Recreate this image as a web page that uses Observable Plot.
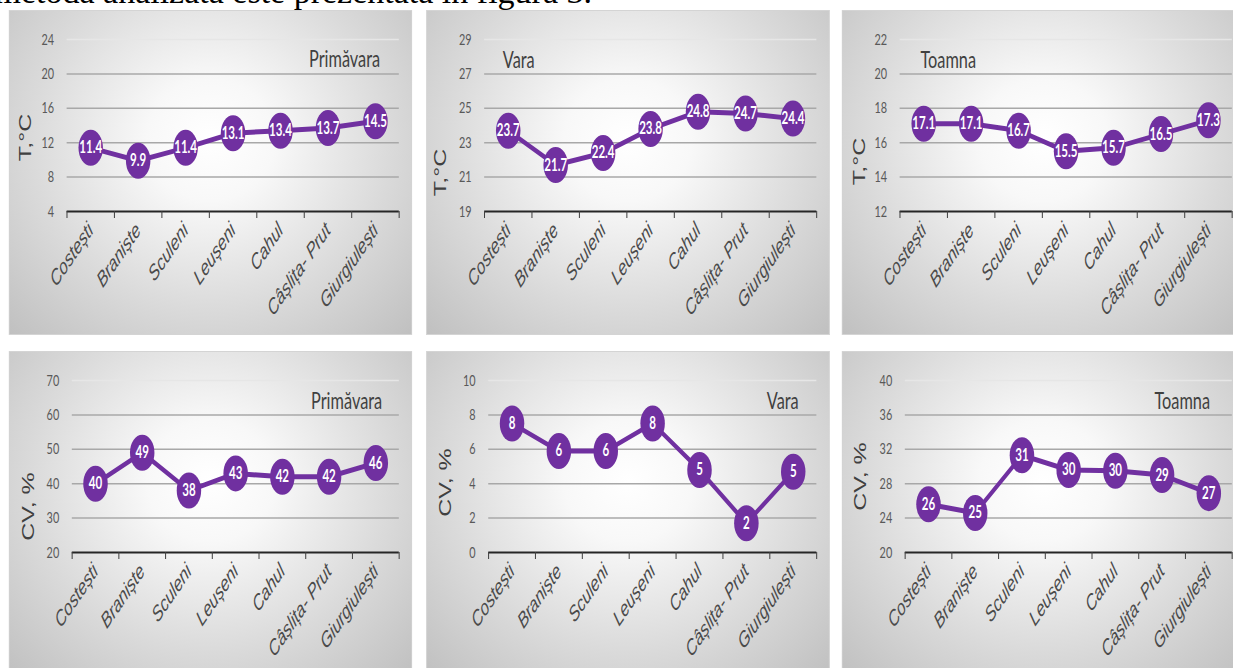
<!DOCTYPE html>
<html>
<head>
<meta charset="utf-8">
<script src="https://cdn.jsdelivr.net/npm/d3@7"></script>
<script src="https://cdn.jsdelivr.net/npm/@observablehq/plot@0.6"></script>
<style>
  html, body { margin: 0; padding: 0; background: #fff; }
  body { width: 1233px; height: 668px; overflow: hidden; position: relative; }
  #lead {
    position: absolute; top: -25px; right: 641px; white-space: nowrap;
    font: 34px/34px "Liberation Serif", "Times New Roman", serif; color: #000;
  }
  /* the chart sheet is laid out wide and condensed horizontally */
  #sheet { position: absolute; left: 0; top: 0; width: 1814px; height: 700px;
           transform: scaleX(0.68); transform-origin: 0 0; }
  .panel {
    position: absolute; width: 593px; height: 325px;
    background: radial-gradient(ellipse 72% 85% at 50% 40%, #ffffff 0%, #f8f8f8 22%, #dadada 62%, #bfbfbf 100%);
    box-shadow: inset 0 0 0 1px #d4d4d4;
  }
  .panel svg { display: block; }
</style>
</head>
<body>
<div id="lead">metoda analizată este prezentată în figura 3.</div>
<div id="sheet"></div>
<script>
// Stations along the Prut river
const stations = ["Costești", "Braniște", "Sculeni", "Leușeni", "Cahul", "Câșlița- Prut", "Giurgiulești"];

// Mean air temperature, °C
const tempSpring = [11.4, 9.9, 11.4, 13.1, 13.4, 13.7, 14.5];
const tempSummer = [23.7, 21.7, 22.4, 23.8, 24.8, 24.7, 24.4];
const tempAutumn = [17.1, 17.1, 16.7, 15.5, 15.7, 16.5, 17.3];

// Coefficient of variation, %
const cvSpring = [40, 49, 38, 43, 42, 42, 46];
const cvSummer = [7.5, 5.9, 5.9, 7.5, 4.8, 1.7, 4.7];
const cvAutumn = [25.6, 24.6, 31.3, 29.6, 29.5, 29.0, 26.9];

// Y-axis tick labels
const ticksTempSpring = [4, 8, 12, 16, 20, 24];
const ticksTempSummer = [19, 21, 23, 25, 27, 29];
const ticksTempAutumn = [12, 14, 16, 18, 20, 22];
const ticksCvSpring = [20, 30, 40, 50, 60, 70];
const ticksCvSummer = [0, 2, 4, 6, 8, 10];
const ticksCvAutumn = [20, 24, 28, 32, 36, 40];

const fmtTemp = d => d.toFixed(1);
const fmtCv = d => String(Math.round(d));

const panels = [
  {left: 13.2, top: 10, values: tempSpring, ticks: ticksTempSpring, yLabel: "T,°C", title: "Primăvara",
   titleAnchor: "top-right", titleDx: -28, titleDy: 27, labelDx: -61.5, labelDy: 12, marginLeft: 85, fmt: fmtTemp},
  {left: 626.5, top: 10, values: tempSummer, ticks: ticksTempSummer, yLabel: "T,°C", title: "Vara",
   titleAnchor: "top-left", titleDx: 27, titleDy: 28, labelDx: -64, labelDy: 47, marginLeft: 85, fmt: fmtTemp},
  {left: 1238.2, top: 10, values: tempAutumn, ticks: ticksTempAutumn, yLabel: "T,°C", title: "Toamna",
   titleAnchor: "top-left", titleDx: 30, titleDy: 28, labelDx: -59, labelDy: 36, marginLeft: 85, fmt: fmtTemp},
  {left: 13.2, top: 351, values: cvSpring, ticks: ticksCvSpring, yLabel: "CV, %", title: "Primăvara",
   titleAnchor: "top-right", titleDx: -25, titleDy: 28, labelDx: -64.6, labelDy: 40, marginLeft: 92.6, fmt: fmtCv},
  {left: 626.5, top: 351, values: cvSummer, ticks: ticksCvSummer, yLabel: "CV, %", title: "Vara",
   titleAnchor: "top-right", titleDx: -26.5, titleDy: 28, labelDx: -64, labelDy: 16, marginLeft: 91, fmt: fmtCv},
  {left: 1238.2, top: 351, values: cvAutumn, ticks: ticksCvAutumn, yLabel: "CV, %", title: "Toamna",
   titleAnchor: "top-right", titleDx: -32.5, titleDy: 28, labelDx: -65.6, labelDy: 10, marginLeft: 92.6, fmt: fmtCv}
];

const purple = "#7030a0";
const n = stations.length;
const sheet = document.getElementById("sheet");

for (const p of panels) {
  const box = document.createElement("div");
  box.className = "panel";
  box.style.left = p.left + "px";
  box.style.top = p.top + "px";
  sheet.appendChild(box);

  const t = p.ticks;
  const chart = Plot.plot({
    width: 593,
    height: 325,
    marginLeft: p.marginLeft,
    marginRight: 19.5,
    marginTop: 29,
    marginBottom: 124,
    style: {background: "transparent", overflow: "visible"},
    x: {domain: [-0.5, n - 0.5], axis: null},
    y: {domain: [t[0], t[t.length - 1]], axis: null},
    marks: [
      Plot.gridY(t.slice(1, -1), {stroke: "#a8a8a8", strokeOpacity: 1, strokeWidth: 1.5}),
      Plot.gridY(t.slice(-1), {stroke: "#e6e6e6", strokeOpacity: 1, strokeWidth: 1.5}),
      Plot.axisY(t, {tickSize: 0, tickPadding: 19, fontSize: 16, fontFamily: "Lato", color: "#595959", label: null}),
      Plot.ruleY([t[0]], {stroke: "#262626", strokeWidth: 2}),
      // category boundary ticks
      Plot.axisX(d3.range(-0.5, n), {tickSize: 7, tickFormat: () => "", color: "#404040", strokeWidth: 1.5, label: null}),
      // station names
      Plot.axisX(d3.range(n), {tickSize: 0, tickPadding: 15, tickRotate: -45, tickFormat: i => stations[i],
        fontSize: 22, fontStyle: "italic", fontFamily: "Liberation Sans", color: "#4a4a4a", label: null}),
      Plot.line(p.values, {x: (d, i) => i, y: d => d, stroke: purple, strokeWidth: 5}),
      Plot.dot(p.values, {x: (d, i) => i, y: d => d, r: 18, fill: purple, stroke: null}),
      Plot.text(p.values, {x: (d, i) => i, y: d => d, text: p.fmt, fill: "white", fontWeight: "bold",
        fontSize: 17, fontFamily: "Lato"}),
      Plot.text([p.title], {frameAnchor: p.titleAnchor, lineAnchor: "bottom", dx: p.titleDx, dy: p.titleDy,
        fontSize: 24, fontFamily: "Lato", fill: "#404040"}),
      Plot.text([p.yLabel], {frameAnchor: "left", rotate: -90, textAnchor: "middle", lineAnchor: "middle",
        dx: p.labelDx, dy: p.labelDy, fontSize: 25, fontFamily: "Liberation Sans", fill: "#404040"})
    ]
  });
  box.appendChild(chart);
}
</script>
</body>
</html>
